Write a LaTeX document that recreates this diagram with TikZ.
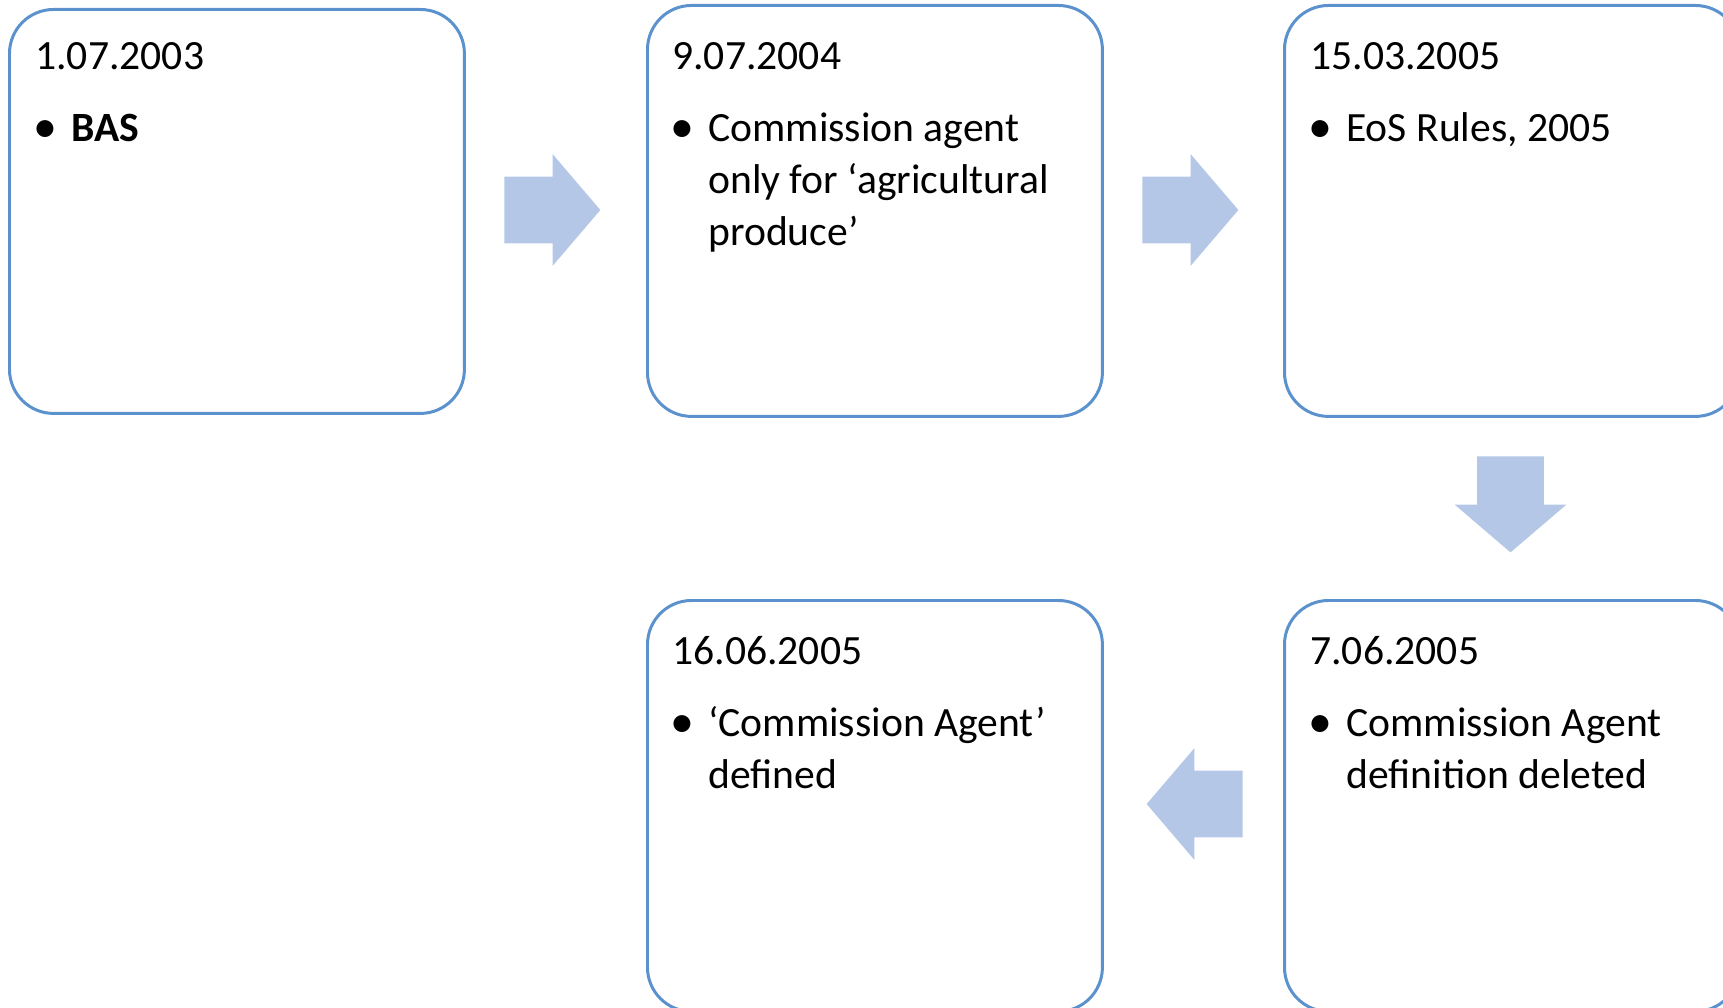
\documentclass[tikz,border=0pt]{standalone}
\usepackage{fontspec}
\setmainfont{Carlito}
\usetikzlibrary{shapes.arrows, positioning}
\definecolor{boxline}{RGB}{91,145,205}
\definecolor{arrowfill}{RGB}{180,199,231}
\tikzset{
  stagebox/.style={draw=boxline, line width=1.7pt, rounded corners=0.88cm,
    minimum width=9.1cm, minimum height=8.22cm, anchor=north west, inner sep=0pt},
  stagetext/.style={anchor=north west, inner sep=0pt, align=left,
    font=\fontsize{23.7}{29.6}\selectfont},
  blockarrow/.style={single arrow, fill=arrowfill, draw=none, anchor=tail,
    inner xsep=0pt, inner ysep=0.66cm, minimum height=1.92cm,
    single arrow head extend=0.45cm, single arrow tip angle=99}
}
\newcommand{\bul}[1]{\begin{tabular}[t]{@{}p{0.72cm}@{}l@{}}\hspace{-0.04cm}\raisebox{-0.02em}{\scalebox{1.15}{\textbullet}} & #1\end{tabular}}

\begin{document}
\begin{tikzpicture}[x=0.02cm, y=-0.02cm]
    \useasboundingbox (0,0) rectangle (1723,1007);
    \clip (0,0) rectangle (1723,1007);

    % boxes
    \node (b1) [stagebox, minimum height=8.08cm] at (8,8) {};
    \node (b2) [stagebox] at (646,4) {};
    \node (b3) [stagebox] at (1283,4) {};
    \node (b4) [stagebox] at (1283,599) {};
    \node (b5) [stagebox] at (646,599) {};

    % texts
    \node (t1) [stagetext] at (35,42) {1.07.2003\\[0.4cm]\bul{\textbf{BAS}}};
    \node (t2) [stagetext] at (672,42) {9.07.2004\\[0.4cm]\bul{Commission agent\\ & only for ‘agricultural\\ & produce’}};
    \node (t3) [stagetext] at (1310,42) {15.03.2005\\[0.4cm]\bul{EoS Rules, 2005}};
    \node (t4) [stagetext] at (1310,636) {7.06.2005\\[0.4cm]\bul{Commission Agent\\ & definition deleted}};
    \node (t5) [stagetext] at (672,636) {16.06.2005\\[0.4cm]\bul{‘Commission Agent’\\ & defined}};

    % arrows (placed by their tails)
    \node (a12) [blockarrow] at (504,210) {};
    \node (a23) [blockarrow] at (1142,210) {};
    \node (a34) [blockarrow, rotate=-90] at (1510.5,456) {};
    \node (a45) [blockarrow, rotate=180] at (1243,804) {};
\end{tikzpicture}
\end{document}
